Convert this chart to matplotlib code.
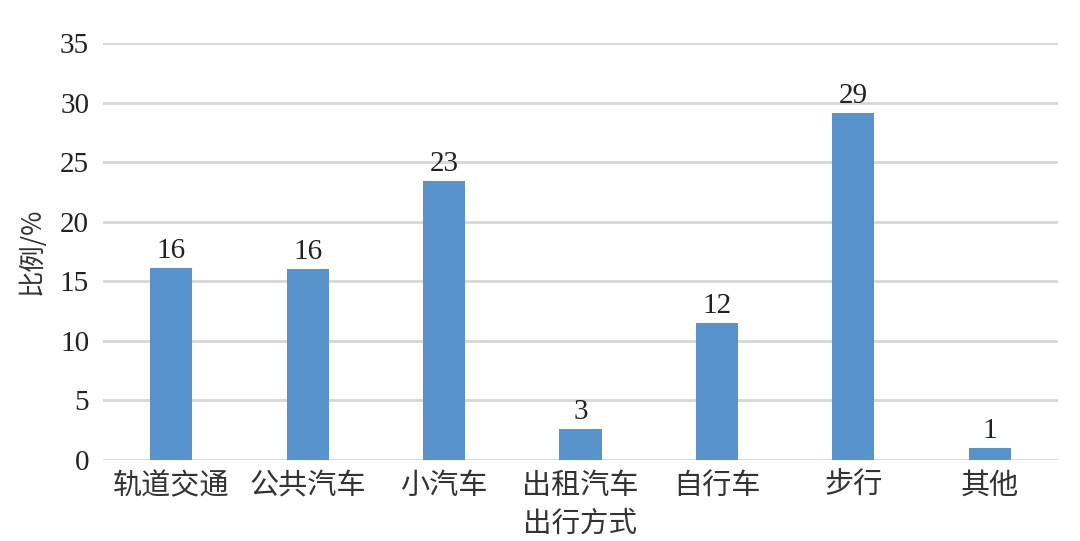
import matplotlib
matplotlib.use("Agg")
import matplotlib.pyplot as plt

categories = ["轨道交通", "公共汽车", "小汽车", "出租汽车", "自行车", "步行", "其他"]
values = [16.1, 16.0, 23.4, 2.6, 11.5, 29.1, 1.0]
labels = ["16", "16", "23", "3", "12", "29", "1"]
yticks = [0, 5, 10, 15, 20, 25, 30, 35]

cjk = ["Noto Sans CJK SC", "DejaVu Sans"]
serif = ["Liberation Serif", "DejaVu Serif"]

fig = plt.figure(figsize=(10.8, 5.41), dpi=100)
ax = fig.add_axes([0.0954, 0.1497, 0.8842, 0.7708])

x = list(range(len(categories)))
bars = ax.bar(x, values, width=0.31, color="#5793CA", zorder=3)

ax.set_xlim(-0.5, len(categories) - 0.5)
ax.set_ylim(0, 35)
ax.set_yticks(yticks)
ax.set_yticklabels([str(t) for t in yticks], family=serif, fontsize=21, color="#222222")
ax.set_xticks(x)
ax.set_xticklabels(categories, family=cjk, fontsize=21, color="#333333")
ax.tick_params(axis="both", length=0)
ax.tick_params(axis="y", pad=10)
ax.tick_params(axis="x", pad=8)

ax.grid(axis="y", color="#d6d6d6", linewidth=2, zorder=0)
for s in ax.spines.values():
    s.set_visible(False)

for rect, lab in zip(bars, labels):
    ax.annotate(lab, (rect.get_x() + rect.get_width() / 2, rect.get_height()),
                xytext=(0, 3), textcoords="offset points", ha="center", va="bottom",
                family=serif, fontsize=21, color="#222222")

ax.set_ylabel("比例/%", family=cjk, fontsize=19, color="#333333", labelpad=10)
ax.set_xlabel("出行方式", family=cjk, fontsize=20.5, color="#333333")
ax.xaxis.set_label_coords((3 + 0.5) / 7, -0.118)

fig.savefig("out.png", dpi=100, facecolor="white")
